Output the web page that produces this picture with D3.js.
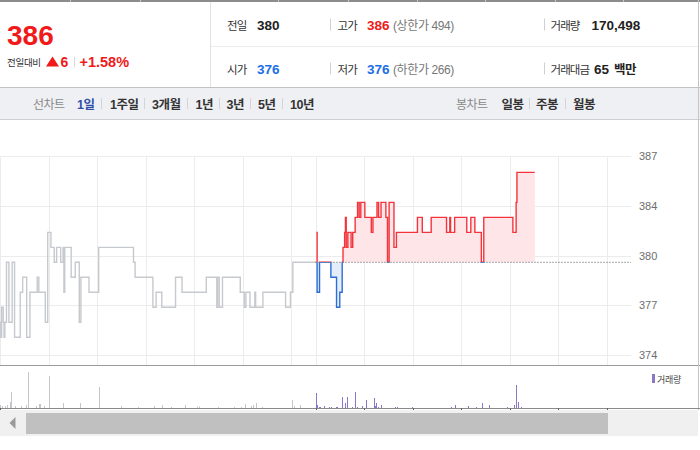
<!DOCTYPE html>
<html><head><meta charset="utf-8">
<script src="https://cdn.jsdelivr.net/npm/d3@7"></script>
<style>
html,body{margin:0;padding:0;background:#fff;}
svg{display:block;font-family:'Liberation Sans','Noto Sans CJK KR',sans-serif;}
</style></head>
<body>
<script>
// ---------------- DATA ----------------
const prevClose = 380;
// previous session (grey), change points: time -> price
const prevTimes = ["09:00","09:01","09:02","09:04","09:05","09:06","09:08","09:11","09:15","09:18","09:25","09:28","09:33","09:37","09:46","09:48","09:56","09:59","10:03","10:07","10:10","10:15","10:18","10:19","10:20","10:28","10:33","10:38","10:40","10:50","11:02","11:45","11:47","12:09","12:13","12:20","12:37","12:45","13:15","13:28","13:29","13:31","13:35","13:57","14:02","14:04","14:09","14:15","14:16","14:25","14:53","14:59","15:02","15:30"];
const prevPrices = [376,375,377,376,375,376,380,376,380,375,378,379,375,378,379,378,376,382,381,380,381,380,381,378,381,379,380,376,379,378,381,380,379,377,378,377,379,378,379,377,379,377,379,378,377,378,377,378,377,378,377,378,380,380];
// today's session, change points
const todayTimes = ["09:01","09:02","09:05","09:19","09:26","09:30","09:33","09:34","09:36","09:37","09:38","09:40","09:44","09:46","09:49","09:52","09:54","09:56","10:01","10:09","10:11","10:16","10:18","10:21","10:27","10:29","10:31","10:37","10:40","11:06","11:12","11:23","11:42","11:46","11:47","11:52","12:07","12:12","12:17","12:25","12:28","13:04","13:08","13:09","13:31"];
const todayPrices = [382,378,380,379,377,378,380,381,382,383,381,382,381,382,383,384,383,384,383,382,383,384,383,384,383,380,384,381,382,383,382,383,382,383,382,383,382,383,382,380,383,382,384,386,386];
// volume (shares)
const prevVolTimes = ["09:00","09:02","09:06","09:09","09:12","09:14","09:19","09:26","09:32","09:34","09:45","09:48","09:50","09:55","10:00","10:18","10:39","11:02","11:29","11:51","12:10","12:20","12:31","12:49","13:03","13:06","13:30","13:49","13:58","14:03","14:10","14:13","14:17","14:24","15:01","15:03","15:11"];
const prevVolValues = [3000,2000,2000,3000,6000,16000,2000,2000,3000,36000,2000,4000,4000,2000,32000,5000,5000,21000,2000,1000,2000,3000,1000,3000,1500,1500,1000,1000,1000,4000,2000,3000,5000,1000,8000,2000,3000];
const todayVolTimes = ["09:01","09:02","09:04","09:06","09:11","09:17","09:19","09:25","09:26","09:33","09:36","09:39","09:45","09:49","09:51","09:57","10:02","10:12","10:14","10:15","10:17","10:21","10:38","10:41","10:59","11:47","11:52","12:08","12:19","12:26","12:34","12:57","13:05","13:08","13:10","13:14"];
const todayVolValues = [15000,3000,1000,1000,2000,1000,1000,1000,1000,11000,5000,11000,1000,16000,1000,2000,8000,10000,2000,5000,1000,3000,1000,1000,1000,1000,3000,2000,1000,5000,3000,1000,3000,23000,6000,1000];
// axis
const yTickValues = [373.82, 377.14, 380.45, 383.77, 387.09];
const yTickLabels = ["374","377","380","384","387"];
const prevGridTimes = ["09:00","10:00","11:00","12:00","13:00","14:00","15:00"];
const todayGridTimes = ["09:00","10:00","11:00","12:00","13:00","14:00","15:00"];

// ---------------- HELPERS ----------------
const toMin = s => { const [h,m] = s.split(":").map(Number); return (h-9)*60+m; };
const DAY = 390;
const prevData = prevTimes.map((t,i)=>({t:toMin(t), p:prevPrices[i]}));
const todayData = todayTimes.map((t,i)=>({t:DAY+toMin(t), p:todayPrices[i]}));
const prevVol = prevVolTimes.map((t,i)=>({t:toMin(t), v:prevVolValues[i]}));
const todayVol = todayVolTimes.map((t,i)=>({t:DAY+toMin(t), v:todayVolValues[i]}));

const svg = d3.select("body").append("svg").attr("width",700).attr("height",450);
const RED="#f01a1a", BLUE="#1a6ee6";

// ---------------- HEADER ----------------
svg.append("rect").attr("x",0).attr("y",0).attr("width",700).attr("height",2).attr("fill","#8c8c8c");
[70,140,278,348,417,485,555,623].forEach(xx=>{
  svg.append("rect").attr("x",xx).attr("y",0).attr("width",1).attr("height",2).attr("fill","#c4c4c4");
});
svg.append("line").attr("x1",210.5).attr("x2",210.5).attr("y1",2).attr("y2",88).attr("stroke","#e2e2e2");
svg.append("line").attr("x1",211).attr("x2",698).attr("y1",46.5).attr("y2",46.5).attr("stroke","#ececec");
svg.append("line").attr("x1",0).attr("x2",700).attr("y1",87.5).attr("y2",87.5).attr("stroke","#c2c2c2");

const txt = (x,y,s,o={}) => svg.append("text").attr("x",x).attr("y",y).text(s)
  .attr("font-size",o.size||11.5).attr("font-weight",o.weight||"normal").attr("fill",o.fill||"#333")
  .attr("letter-spacing",o.ls!==undefined?o.ls:0)
  .attr("text-anchor",o.anchor||"start");
const KR = {size:11.5, ls:-0.9, fill:"#333"};

txt(7,44.5,"386",{size:28,weight:"bold",fill:RED});
txt(7,66,"전일대비",{size:9.5,fill:"#333",ls:-0.3});
svg.append("path").attr("d","M52.5,56.5 L59,66.5 L46,66.5 Z").attr("fill",RED);
txt(60.5,66.5,"6",{size:14,weight:"bold",fill:RED});
svg.append("line").attr("x1",74.5).attr("x2",74.5).attr("y1",57).attr("y2",67).attr("stroke","#d8d8d8");
txt(79.5,66.5,"+1.58%",{size:14.5,weight:"bold",fill:RED});

// info rows
const row1=29.5, row2=73.5;
txt(227,row1,"전일",KR); txt(257,row1,"380",{size:13.5,weight:"bold",fill:"#222"});
txt(227,row2,"시가",KR); txt(257,row2,"376",{size:13.5,weight:"bold",fill:BLUE});
[row1,row2].forEach(r=>{
  svg.append("line").attr("x1",330.5).attr("x2",330.5).attr("y1",r-11).attr("y2",r+1).attr("stroke","#d0d0d0");
  svg.append("line").attr("x1",544.5).attr("x2",544.5).attr("y1",r-11).attr("y2",r+1).attr("stroke","#d0d0d0");
});
txt(337.5,row1,"고가",KR); txt(367,row1,"386",{size:13.5,weight:"bold",fill:RED}); txt(393,row1,"(상한가 494)",{size:12,fill:"#777",ls:-0.4});
txt(337.5,row2,"저가",KR); txt(367,row2,"376",{size:13.5,weight:"bold",fill:BLUE}); txt(393,row2,"(하한가 266)",{size:12,fill:"#777",ls:-0.4});
txt(550.5,row1,"거래량",KR); txt(591.5,row1,"170,498",{size:13.5,weight:"bold",fill:"#222"});
txt(550.5,row2,"거래대금",KR); txt(594,row2,"65",{size:13.5,weight:"bold",fill:"#222"}); txt(614,row2,"백만",{size:12.5,weight:"bold",fill:"#222",ls:-0.6});

// toolbar
svg.append("rect").attr("x",0).attr("y",88).attr("width",700).attr("height",31).attr("fill","#eff0f4");
svg.append("line").attr("x1",0).attr("x2",700).attr("y1",119.5).attr("y2",119.5).attr("stroke","#cfcfd3");
const tb=108.5;
txt(33,tb,"선차트",{size:12,fill:"#8a8a8a",ls:-0.5});
txt(77,tb,"1일",{size:12.5,weight:"bold",fill:"#2f4fa8",ls:-0.5});
const periods=[["1주일",110],["3개월",152],["1년",195.5],["3년",226.5],["5년",258],["10년",290]];
periods.forEach(([s,x])=>txt(x,tb,s,{size:12.5,weight:"bold",fill:"#333",ls:-0.5}));
[101.5,144.5,187.5,219.5,250.5,282.5,529.5,565.5].forEach(xx=>{
  svg.append("line").attr("x1",xx).attr("x2",xx).attr("y1",98).attr("y2",109).attr("stroke","#d4d4d8");
});
txt(456,tb,"봉차트",{size:12,fill:"#8a8a8a",ls:-0.5});
[["일봉",501.5],["주봉",536],["월봉",573]].forEach(([s,x])=>txt(x,tb,s,{size:12.5,weight:"bold",fill:"#333",ls:-0.5}));

// ---------------- PRICE CHART ----------------
const x = d3.scaleLinear().domain([0,780]).range([0,631]);
const y = d3.scaleLinear().domain([373.82,387.09]).range([355,156]);
const gTop = y(yTickValues[yTickValues.length-1]);

const grid = svg.append("g").attr("stroke","#ececec").attr("stroke-width",1);
grid.selectAll("line.h").data(yTickValues).join("line").attr("class","h")
  .attr("x1",0).attr("x2",631).attr("y1",d=>Math.round(y(d))+0.5).attr("y2",d=>Math.round(y(d))+0.5);
const gridT = prevGridTimes.map(toMin).concat(todayGridTimes.map(t=>DAY+toMin(t)));
grid.selectAll("line.v").data(gridT).join("line").attr("class","v")
  .attr("x1",d=>Math.round(x(d))+0.5).attr("x2",d=>Math.round(x(d))+0.5).attr("y1",gTop).attr("y2",365);

const yAxis = d3.axisRight(y).tickValues(yTickValues).tickFormat((d,i)=>yTickLabels[i]).tickSize(0).tickPadding(0);
const ya = svg.append("g").attr("transform","translate(639,0)").call(yAxis);
ya.select(".domain").remove();
ya.selectAll("text").attr("font-size",11).attr("fill","#6e6e6e").attr("font-family","'Liberation Sans',sans-serif");

// previous session line
const line = d3.line().x(d=>x(d.t)).y(d=>y(d.p)).curve(d3.curveStepAfter);
svg.append("path").datum(prevData.concat([{t:DAY+toMin(todayTimes[0]),p:prevPrices[prevPrices.length-1]}]))
  .attr("d",line).attr("fill","none").attr("stroke","#c6c9ce").attr("stroke-width",1.4);

// today: clip above / below prev close
const yb = y(prevClose);
const defs = svg.append("defs");
defs.append("clipPath").attr("id","above").append("rect").attr("x",0).attr("y",120).attr("width",640).attr("height",yb-120);
defs.append("clipPath").attr("id","below").append("rect").attr("x",0).attr("y",yb).attr("width",640).attr("height",365-yb);
const area = d3.area().x(d=>x(d.t)).y0(yb).y1(d=>y(d.p)).curve(d3.curveStepAfter);
svg.append("path").datum(todayData).attr("d",area).attr("fill","#fde5e8").attr("clip-path","url(#above)");
svg.append("path").datum(todayData).attr("d",area).attr("fill","#e4edfa").attr("clip-path","url(#below)");
svg.append("line").attr("x1",x(DAY)).attr("x2",631).attr("y1",yb).attr("y2",yb)
  .attr("stroke","#555").attr("stroke-dasharray","1,2");
svg.append("path").datum(todayData).attr("d",line).attr("fill","none").attr("stroke","#f4343c").attr("stroke-width",1.4).attr("clip-path","url(#above)");
svg.append("path").datum(todayData).attr("d",line).attr("fill","none").attr("stroke","#2b6fd4").attr("stroke-width",1.4).attr("clip-path","url(#below)");

// frame lines
svg.append("line").attr("x1",0).attr("x2",700).attr("y1",365.5).attr("y2",365.5).attr("stroke","#9a9a9a");
svg.append("line").attr("x1",698.5).attr("x2",698.5).attr("y1",0).attr("y2",410).attr("stroke","#c4c4c4");

// ---------------- VOLUME ----------------
const yv = d3.scaleLinear().domain([0,40000]).range([408,368]);
svg.append("g").selectAll("rect").data(prevVol).join("rect")
  .attr("x",d=>Math.round(x(d.t))).attr("width",1).attr("y",d=>yv(d.v)).attr("height",d=>408-yv(d.v)).attr("fill","#c4c6ca");
svg.append("g").selectAll("rect").data(todayVol).join("rect")
  .attr("x",d=>Math.round(x(d.t))).attr("width",1).attr("y",d=>yv(d.v)).attr("height",d=>408-yv(d.v)).attr("fill","#8a78c4");
svg.append("line").attr("x1",0).attr("x2",700).attr("y1",408.5).attr("y2",408.5).attr("stroke","#8a8a8a");
const volTicks=[0].concat(todayGridTimes.map(t=>DAY+toMin(t)));
svg.append("g").selectAll("line").data(volTicks).join("line")
  .attr("x1",d=>Math.round(x(d))+0.5).attr("x2",d=>Math.round(x(d))+0.5).attr("y1",408).attr("y2",411).attr("stroke","#666");
svg.append("rect").attr("x",652).attr("y",374).attr("width",3).attr("height",9).attr("fill","#8a78c4");
txt(657,382.5,"거래량",{size:9,fill:"#444",ls:-0.3});

// ---------------- SCROLLBAR ----------------
svg.append("rect").attr("x",0).attr("y",410).attr("width",698).attr("height",26).attr("fill","#f0f0f0");
svg.append("rect").attr("x",26).attr("y",413).attr("width",582).attr("height",21).attr("fill","#c0c0c0");
svg.append("path").attr("d","M9.5,423 L15.5,417 L15.5,429 Z").attr("fill","#9a9a9a");
</script>
</body></html>
